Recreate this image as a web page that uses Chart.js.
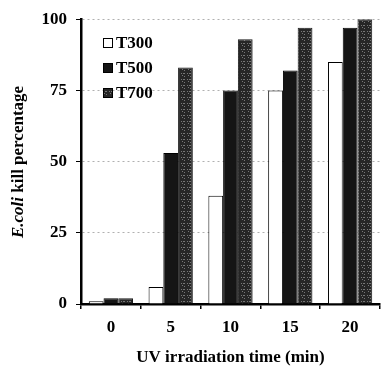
<!DOCTYPE html>
<html>
<head>
<meta charset="utf-8">
<script src="https://cdn.jsdelivr.net/npm/chart.js@4/dist/chart.umd.min.js"></script>
<style>
  html, body { margin: 0; padding: 0; background: #fff; }
  #wrap { width: 386px; height: 372px; }
</style>
</head>
<body>
<div id="wrap"><canvas id="c" width="386" height="372"></canvas></div>
<script>
const times = ["0", "5", "10", "15", "20"];
const t300 = [1, 6, 38, 75, 85];
const t500 = [2, 53, 75, 82, 97];
const t700 = [2, 83, 93, 97, 100];
const yTicks = [0, 25, 50, 75, 100];

const serif = "'Liberation Serif', 'DejaVu Serif', serif";

function speckPattern() {
    const p = document.createElement("canvas");
    p.width = 6;
    p.height = 6;
    const g = p.getContext("2d");
    g.fillStyle = "#262626";
    g.fillRect(0, 0, 6, 6);
    g.fillStyle = "#777777";
    g.fillRect(1, 1, 1, 1);
    g.fillRect(3, 1, 2, 1);
    g.fillRect(2, 3, 1, 1);
    g.fillRect(4, 4, 1, 1);
    return document.getElementById("c").getContext("2d").createPattern(p, "repeat");
}

const t700Fill = speckPattern();

// legend drawn inside the plot, top left
const insideLegend = {
    id: "insideLegend",
    afterDraw(chart) {
        const ctx = chart.ctx;
        ctx.save();
        ctx.font = "bold 17px " + serif;
        ctx.textBaseline = "middle";
        chart.data.datasets.forEach((ds, i) => {
            const y = 43 + i * 25;
            ctx.fillStyle = ds.backgroundColor;
            ctx.fillRect(103, y - 5, 10, 10);
            ctx.strokeStyle = "#000";
            ctx.lineWidth = 1;
            ctx.strokeRect(103.5, y - 4.5, 9, 9);
            ctx.fillStyle = "#000";
            ctx.fillText(ds.label, 116, y + 1);
        });
        ctx.restore();
    }
};

// y title with the italic species name
const yTitle = {
    id: "yTitle",
    afterDraw(chart) {
        const ctx = chart.ctx;
        ctx.save();
        ctx.translate(19, 162);
        ctx.rotate(-Math.PI / 2);
        ctx.fillStyle = "#000";
        ctx.textBaseline = "middle";
        const a = "E.coli";
        const b = " kill percentage";
        ctx.font = "italic bold 17px " + serif;
        const wa = ctx.measureText(a).width;
        ctx.font = "bold 17px " + serif;
        const wb = ctx.measureText(b).width;
        let x = -(wa + wb) / 2;
        ctx.font = "italic bold 17px " + serif;
        ctx.fillText(a, x, 0);
        ctx.font = "bold 17px " + serif;
        ctx.fillText(b, x + wa, 0);
        ctx.restore();
    }
};

new Chart(document.getElementById("c"), {
    type: "bar",
    data: {
        labels: times,
        datasets: [
            { label: "T300", data: t300, backgroundColor: "#ffffff", borderColor: "#000", borderWidth: 1 },
            { label: "T500", data: t500, backgroundColor: "#151515", borderColor: "#000", borderWidth: 1 },
            { label: "T700", data: t700, backgroundColor: t700Fill, borderColor: "#1a1a1a", borderWidth: 1 }
        ]
    },
    options: {
        responsive: false,
        animation: false,
        layout: { padding: { left: 0, right: 6, top: 12, bottom: 0 } },
        datasets: { bar: { categoryPercentage: 0.74, barPercentage: 1.0 } },
        plugins: {
            legend: { display: false },
            tooltip: { enabled: false }
        },
        scales: {
            x: {
                afterFit: s => { s.height = 68; },
                grid: { drawOnChartArea: false, tickLength: 5, color: "#000", lineWidth: 1.5 },
                border: { color: "#000", width: 2.5 },
                ticks: { color: "#000", padding: 8, font: { family: serif, size: 17, weight: "bold" } },
                title: {
                    display: true,
                    text: "UV irradiation time (min)",
                    color: "#000",
                    padding: { top: 1 },
                    font: { family: serif, size: 17, weight: "bold" }
                }
            },
            y: {
                min: 0,
                max: 100,
                afterFit: s => { s.width = 81; },
                afterBuildTicks: s => { s.ticks = yTicks.map(v => ({ value: v })); },
                grid: { color: "#b0b0b0", lineWidth: 1, tickColor: "#000", tickLength: 5, tickBorderDash: [] },
                border: { color: "#000", width: 2.5, dash: [2, 3] },
                ticks: { color: "#000", padding: 9, font: { family: serif, size: 17, weight: "bold" } }
            }
        }
    },
    plugins: [insideLegend, yTitle]
});
</script>
</body>
</html>
